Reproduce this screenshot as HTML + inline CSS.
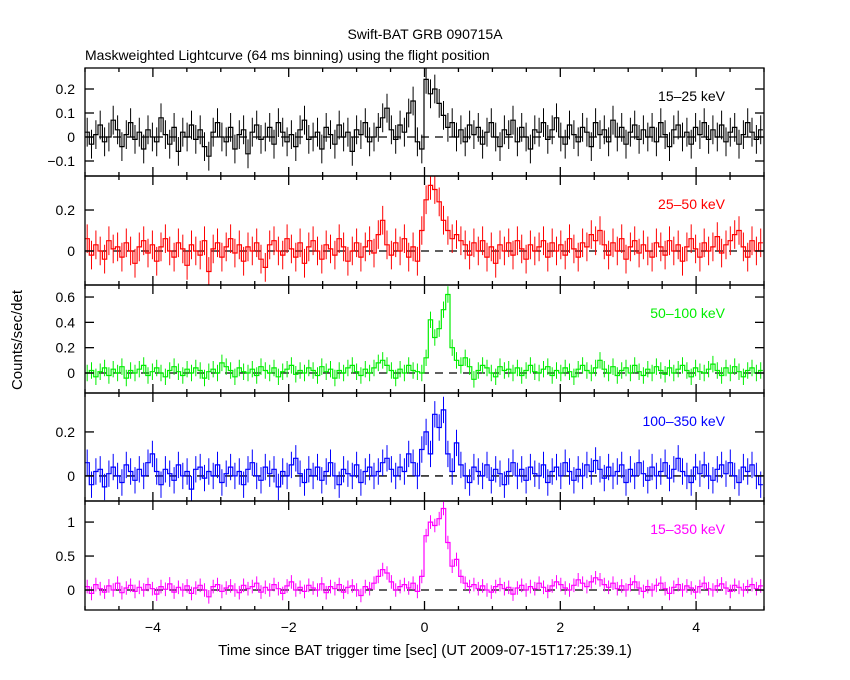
<!DOCTYPE html>
<html><head><meta charset="utf-8">
<style>
body{margin:0;background:#fff;width:850px;height:680px;overflow:hidden}
svg{display:block;font-family:"Liberation Sans",sans-serif}
</style></head>
<body>
<svg id="chart" width="850" height="680" xmlns="http://www.w3.org/2000/svg">
<text x="425" y="39" font-size="14" text-anchor="middle">Swift-BAT GRB 090715A</text>
<text x="85" y="60" font-size="14">Maskweighted Lightcurve (64 ms binning) using the flight position</text>
<text x="425" y="655" font-size="15" text-anchor="middle">Time since BAT trigger time [sec] (UT 2009-07-15T17:25:39.1)</text>
<text transform="translate(22,340) rotate(-90)" font-size="15" text-anchor="middle">Counts/sec/det</text>
</svg>
<script>
const binStart = -5.0;
const binWidth = 0.064;
const xTicks = [-4, -2, 0, 2, 4];
const bandLabels = ["15\u201325 keV", "25\u201350 keV", "50\u2013100 keV", "100\u2013350 keV", "15\u2013350 keV"];
const bandColors = ["#000000", "#ff0000", "#00ee00", "#0000ff", "#ff00ff"];
const yTicks1 = [-0.1, 0, 0.1, 0.2];
const yTicks2 = [0, 0.2];
const yTicks3 = [0, 0.2, 0.4, 0.6];
const yTicks4 = [0, 0.2];
const yTicks5 = [0, 0.5, 1];
const errs = [0.06, 0.07, 0.065, 0.06, 0.1];
const yDomains = [[-0.1625, 0.2875], [-0.166, 0.366], [-0.158, 0.695], [-0.114, 0.377], [-0.294, 1.31]];
const rate1 = [
0.02,-0.03,0.01,0.05,-0.02,0.00,0.07,0.03,-0.04,0.01,0.06,-0.01,0.02,
-0.05,0.03,0.00,-0.02,0.08,0.01,-0.03,0.04,-0.06,0.02,0.00,0.05,-0.01,
0.03,-0.04,-0.08,0.02,0.06,0.00,-0.02,0.04,-0.05,0.01,0.03,-0.07,0.02,
0.05,-0.01,0.00,0.04,-0.03,0.06,0.02,-0.02,0.01,-0.04,0.03,0.07,-0.01,
0.00,0.02,-0.05,0.04,0.01,-0.03,0.05,0.00,0.02,-0.06,0.03,0.01,0.06,
-0.02,0.00,0.04,0.08,0.12,0.03,-0.01,0.05,0.02,0.10,0.15,-0.02,-0.05,
0.24,0.18,0.20,0.14,0.09,0.04,0.06,0.00,0.03,-0.02,0.05,0.01,0.04,
-0.03,0.02,0.06,0.00,-0.04,0.03,0.01,0.07,-0.02,0.04,0.00,-0.05,0.03,
0.02,0.06,-0.01,0.03,0.08,0.00,-0.03,0.05,0.01,-0.02,0.04,0.02,-0.04,
0.06,0.01,0.03,-0.02,0.07,0.00,0.04,-0.03,0.02,0.05,-0.01,0.03,0.00,
0.04,-0.02,0.06,0.01,-0.04,0.03,0.05,0.00,0.02,-0.03,0.04,0.01,0.06,
-0.01,0.03,0.00,0.05,-0.02,0.02,0.04,-0.03,0.01,0.06,0.02,-0.01,0.03];
const rate2 = [
0.06,-0.02,0.03,0.00,-0.04,0.05,0.01,0.02,-0.03,0.04,0.00,-0.06,0.02,
0.05,-0.01,0.03,-0.05,0.02,0.06,0.00,-0.03,0.04,0.01,-0.07,0.03,0.00,
-0.02,0.05,-0.10,0.01,0.04,-0.03,0.02,0.06,-0.01,0.03,-0.05,0.02,0.00,
0.04,-0.04,-0.08,0.03,0.05,0.00,-0.02,0.06,0.01,-0.03,0.04,-0.06,0.02,
0.05,0.00,-0.04,0.03,0.01,-0.02,0.06,0.02,-0.05,0.00,0.04,-0.03,0.02,
0.05,-0.01,0.08,0.15,0.03,-0.02,0.04,0.00,0.06,-0.03,0.02,-0.05,0.10,
0.25,0.32,0.30,0.24,0.15,0.10,0.06,0.08,0.05,0.03,-0.02,0.04,0.00,
0.05,-0.03,0.02,-0.06,0.03,0.00,0.04,-0.02,0.05,0.01,-0.04,0.03,0.00,
0.02,0.05,-0.03,0.04,0.00,0.03,-0.02,0.06,0.01,-0.03,0.04,0.02,0.08,
0.05,0.10,0.03,-0.02,0.04,0.00,0.06,-0.04,0.02,0.05,-0.01,0.03,0.00,
-0.03,0.04,0.02,-0.02,0.05,0.00,0.03,-0.05,0.02,0.06,0.01,-0.03,0.04,
0.00,0.02,0.07,-0.01,0.03,0.05,0.08,0.10,0.02,-0.03,0.05,0.00,0.04];
const rate3 = [
0.00,0.02,-0.03,0.01,0.04,-0.02,0.03,0.00,0.05,-0.04,0.02,0.00,0.03,
0.06,-0.02,0.01,0.04,0.00,-0.03,0.02,0.05,0.01,-0.02,0.03,0.00,0.04,
0.02,-0.04,0.01,0.03,0.00,0.08,0.05,0.02,-0.03,0.04,0.01,0.00,0.03,
-0.02,0.05,0.02,0.00,0.04,-0.03,0.01,0.03,0.06,-0.01,0.02,0.00,0.04,
0.02,-0.02,0.05,0.01,0.03,-0.04,0.02,0.00,0.04,0.06,0.01,-0.02,0.03,
0.00,0.04,0.08,0.10,0.06,0.02,-0.04,0.03,0.00,0.06,0.02,0.01,0.00,
0.12,0.42,0.28,0.35,0.50,0.62,0.20,0.10,0.06,0.12,0.05,-0.05,0.02,
0.06,0.04,0.00,-0.03,0.05,0.02,0.03,0.00,0.04,-0.02,0.02,0.06,0.01,
0.00,0.03,0.05,-0.02,0.02,0.00,0.04,0.01,-0.03,0.03,0.06,0.02,0.00,
0.04,0.10,0.03,0.00,0.05,-0.02,0.02,0.04,0.00,0.06,0.01,-0.02,0.03,
0.00,0.05,0.02,-0.01,0.04,0.00,0.03,0.06,0.02,-0.03,0.04,0.01,0.00,
0.03,0.07,0.02,-0.02,0.04,0.00,0.05,0.01,-0.03,0.02,0.04,0.00,0.02];
const rate4 = [
0.06,-0.04,0.02,0.03,-0.05,0.01,0.04,0.00,-0.03,0.05,0.02,-0.02,0.03,
0.00,0.06,0.10,0.02,-0.04,0.03,0.01,-0.02,0.05,0.00,0.02,-0.06,0.03,
0.04,-0.01,0.02,0.00,0.05,-0.03,0.01,0.04,0.00,0.02,-0.04,0.03,0.06,
0.00,-0.02,0.04,0.01,0.03,-0.05,0.02,0.00,0.05,0.08,0.01,-0.03,0.03,
0.00,0.04,-0.02,0.02,0.06,0.00,-0.04,0.03,0.01,0.00,0.05,-0.03,0.02,
0.04,0.00,0.02,0.06,0.08,0.03,0.00,0.04,0.02,0.10,0.06,0.00,0.12,
0.20,0.10,0.28,0.22,0.30,0.10,0.02,0.15,0.05,0.00,-0.03,0.04,0.02,
0.00,0.05,-0.02,0.03,0.01,-0.04,0.02,0.06,0.00,0.03,-0.02,0.04,0.01,
0.00,0.05,-0.03,0.02,0.04,0.00,0.06,0.02,-0.02,0.03,0.00,0.05,0.02,
0.07,0.03,-0.01,0.04,0.00,0.02,0.05,-0.03,0.03,0.00,0.06,0.01,-0.02,
0.04,0.00,0.02,0.06,-0.01,0.03,0.08,0.02,0.00,-0.03,0.04,0.01,0.05,
0.00,-0.02,0.03,0.05,0.01,0.06,0.00,-0.03,0.04,0.02,0.05,0.00,-0.04];
const rate5 = [
0.05,-0.05,0.08,0.02,-0.03,0.06,0.00,0.10,-0.04,0.03,0.07,-0.02,0.04,
0.00,0.08,0.02,-0.06,0.05,0.01,0.09,-0.03,0.04,0.00,0.06,-0.05,0.03,
0.07,0.00,-0.10,0.05,0.08,-0.02,0.03,0.06,0.00,-0.04,0.07,0.02,0.05,
0.10,-0.03,0.04,0.00,0.08,0.02,-0.05,0.06,0.12,0.00,0.04,-0.02,0.07,
0.03,0.00,0.09,-0.04,0.05,0.02,0.08,-0.03,0.04,0.06,0.00,-0.08,0.05,
0.02,0.10,0.20,0.30,0.25,0.12,0.00,0.05,0.08,0.03,0.10,-0.02,0.20,
0.80,1.00,0.95,1.05,1.20,0.70,0.35,0.45,0.20,0.10,0.05,0.08,0.02,
0.06,0.00,-0.03,0.05,0.08,0.02,0.04,-0.06,0.03,0.07,0.00,0.05,0.02,
0.10,0.04,-0.02,0.06,0.12,0.08,0.03,0.00,0.07,0.15,0.10,0.05,0.12,
0.18,0.15,0.08,0.04,0.10,0.02,0.06,0.00,0.08,0.12,0.03,-0.02,0.05,
0.00,0.07,0.10,0.02,-0.05,0.04,0.08,0.00,0.06,0.03,-0.03,0.05,0.10,
0.02,0.00,0.06,0.09,0.03,-0.02,0.07,0.04,0.00,0.05,0.08,0.02,0.06];
const rates = [rate1, rate2, rate3, rate4, rate5];
const yTickSets = [yTicks1, yTicks2, yTicks3, yTicks4, yTicks5];

const NS = "http://www.w3.org/2000/svg";
const svg = document.getElementById("chart");
const L = 85, R = 764;
const panelTops = [68, 176, 285, 393, 501];
const panelH = [108, 109, 108, 108, 109];
const xMin = -5, xMax = 5;
function xScale(t){ return L + (t - xMin) / (xMax - xMin) * (R - L); }
function mk(tag, attrs, parent){
  const e = document.createElementNS(NS, tag);
  for (const k in attrs) e.setAttribute(k, attrs[k]);
  (parent || svg).appendChild(e);
  return e;
}
function fmt(v){ let s = (Math.round(v*10)/10).toString(); return s.replace("-", "\u2212"); }

for (let p = 0; p < 5; p++) {
  const top = panelTops[p], h = panelH[p], bot = top + h;
  const [d0, d1] = yDomains[p];
  const yScale = v => bot - (v - d0) / (d1 - d0) * h;
  const g = mk("g", {});
  
  
  const col = bandColors[p];
  const zl = mk("line", {x1:L, x2:R, y1:yScale(0), y2:yScale(0), stroke:"#000", "stroke-width":1.3, "stroke-dasharray":"8,6"}, g);
  
  
  const vals = rates[p];
  let d = "";
  let eb = "";
  for (let i = 0; i < vals.length; i++) {
    const t0 = binStart + i*binWidth, t1 = Math.min(t0 + binWidth, xMax);
    const x0 = xScale(t0), x1 = xScale(t1), y = yScale(vals[i]);
    d += (i === 0 ? "M" : "L") + x0.toFixed(1) + "," + y.toFixed(1) + "L" + x1.toFixed(1) + "," + y.toFixed(1);
    const xc = xScale(Math.min(t0 + binWidth/2, xMax - 0.001));
    eb += "M" + xc.toFixed(1) + "," + yScale(vals[i] + errs[p]).toFixed(1) + "V" + yScale(vals[i] - errs[p]).toFixed(1);
  }
  const cp = mk("clipPath", {id:"clip"+p}, svg);
  mk("rect", {x:L, y:top, width:R-L, height:h}, cp);
  const se = mk("path", {d:eb, stroke:col, "stroke-width":1, fill:"none", "clip-path":"url(#clip"+p+")"}, g);
  
  
  const sl = mk("path", {d:d, stroke:col, "stroke-width":1.2, fill:"none", "clip-path":"url(#clip"+p+")"}, g);
  
  
  const fr = mk("rect", {x:L, y:top, width:R-L, height:h, fill:"none", stroke:"#000", "stroke-width":1.3}, g);
  
  
  for (let t = -5; t <= 5.001; t += 0.5) {
    const major = Math.abs(t - Math.round(t/2)*2) < 1e-6;
    const len = major ? 9 : 4;
    const x = xScale(t);
    mk("line", {x1:x, x2:x, y1:bot, y2:bot-len, stroke:"#000", "stroke-width":1.3}, g);
    mk("line", {x1:x, x2:x, y1:top, y2:top+len, stroke:"#000", "stroke-width":1.3}, g);
  }
  yTickSets[p].forEach(v => {
    const y = yScale(v);
    mk("line", {x1:L, x2:L+9, y1:y, y2:y, stroke:"#000", "stroke-width":1.3}, g);
    mk("line", {x1:R, x2:R-9, y1:y, y2:y, stroke:"#000", "stroke-width":1.3}, g);
    const tl = mk("text", {x:L-10, y:y+5, "font-size":14, "text-anchor":"end"}, g);
    tl.textContent = fmt(v);
    
    
  });
  const bl = mk("text", {x:725, y:top+33, "font-size":14, "text-anchor":"end", fill:col}, g);
  bl.textContent = bandLabels[p];
  
  
}
xTicks.forEach(t => {
  const tx = mk("text", {x:xScale(t), y:632, "font-size":14, "text-anchor":"middle"});
  tx.textContent = fmt(t);
  
  
});
</script>
</body></html>
